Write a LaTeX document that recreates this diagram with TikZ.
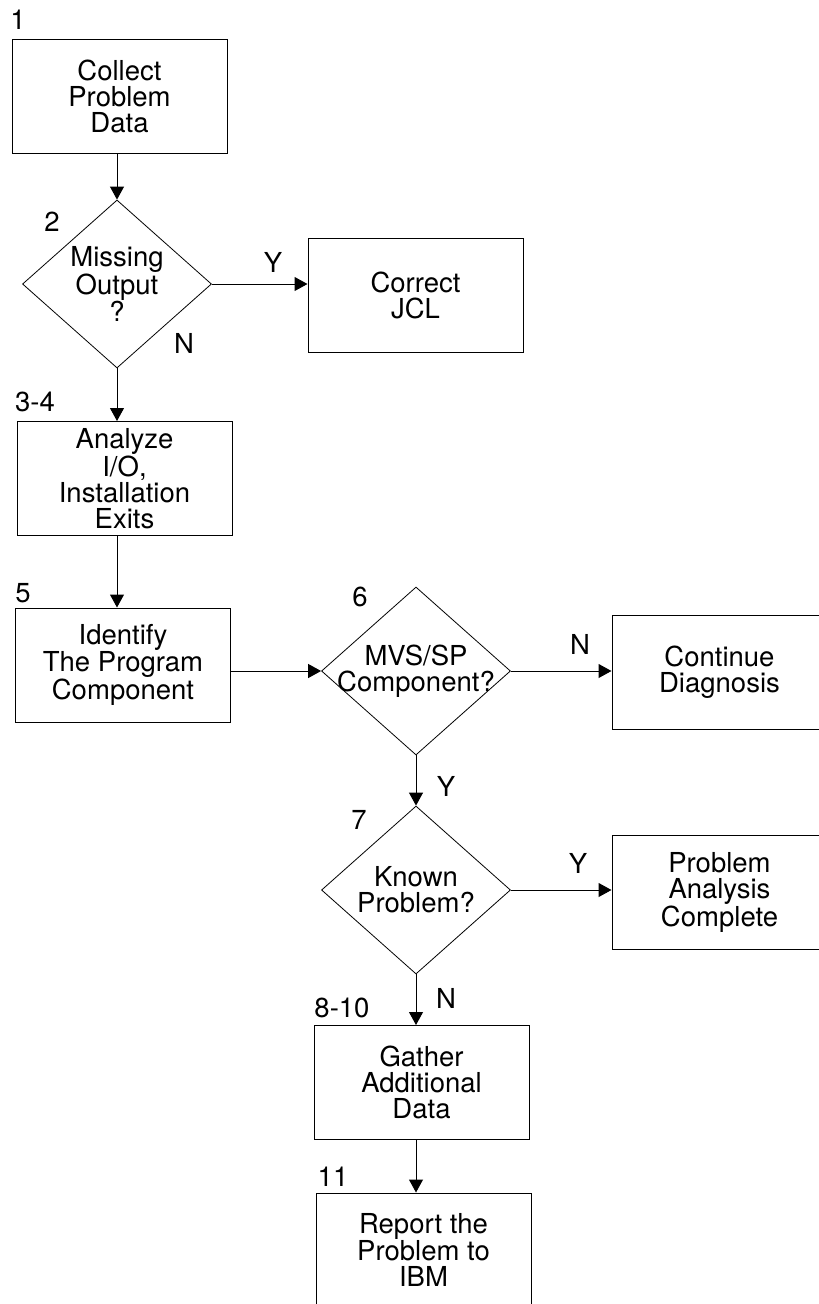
\documentclass[tikz,border=0pt]{standalone}
\usepackage{fontspec}
\setmainfont{TeX Gyre Heros}
\usetikzlibrary{shapes.geometric,arrows.meta}

\begin{document}
\begin{tikzpicture}
        [x=1pt,y=-1pt,line width=1pt,>={Triangle[length=13pt,width=14pt]},
         every node/.style={font=\fontsize{27.5}{26}\selectfont,inner sep=0pt},
         stepbox/.style={draw,rectangle,minimum width=215pt,minimum height=114pt,align=center},
         ask/.style={draw,diamond,line width=.8pt,minimum width=189pt,minimum height=168pt,shape aspect=1.125,inner sep=-8pt,align=center}]
        \useasboundingbox (0,0) rectangle (819,1304);

        \node[stepbox] (collect)  at (119.5,96)    {Collect\\Problem\\Data};
        \node[ask]     (missing)  at (117,284)     {Missing\\Output\\?};
        \node[stepbox] (jcl)      at (415.5,295.5) {Correct\\JCL};
        \node[stepbox] (analyze)  at (124.5,478.5) {Analyze\\I/O,\\Installation\\Exits};
        \node[stepbox] (identify) at (123,665)     {Identify\\The Program\\Component};
        \node[ask]     (mvs)      at (416,671)     {MVS/SP\\Component?};
        \node[stepbox] (cont)     at (719.5,672)   {Continue\\Diagnosis};
        \node[ask]     (known)    at (416,890)     {Known\\Problem?};
        \node[stepbox] (complete) at (719.5,892.5) {Problem\\Analysis\\Complete};
        \node[stepbox] (gather)   at (421.5,1082.5) {Gather\\Additional\\Data};
        \node[stepbox] (report)   at (423.5,1250)  {Report the\\Problem to\\IBM};

        % step numbers
        \node (l1)   at (18,20)    {1};
        \node (l2)   at (52,222)   {2};
        \node (l34)  at (35,402)   {3-4};
        \node (l5)   at (23,593)   {5};
        \node (l6)   at (360,597)  {6};
        \node (l7)   at (359,820)  {7};
        \node (l810) at (342,1008) {8-10};
        \node (l11)  at (333,1177) {11};

        % answers
        \node (y2) at (273,262) {Y};
        \node (n2) at (184,343) {N};
        \node (n6) at (580,644) {N};
        \node (y6) at (446,786) {Y};
        \node (y7) at (578,863) {Y};
        \node (n7) at (446,998) {N};

        \path [->] (collect.south -| missing.north) edge (missing.north);
        \path [->] (missing.east) edge (missing.east -| jcl.west);
        \path [->] (missing.south) edge (missing.south |- analyze.north);
        \path [->] (missing.south |- analyze.south) edge (missing.south |- identify.north);
        \path [->] (mvs.west -| identify.east) edge (mvs.west);
        \path [->] (mvs.east) edge (mvs.east -| cont.west);
        \path [->] (mvs.south) edge (known.north);
        \path [->] (known.east) edge (known.east -| complete.west);
        \path [->] (known.south) edge (known.south |- gather.north);
        \path [->] (known.south |- gather.south) edge (known.south |- report.north);
    \end{tikzpicture}
\end{document}
